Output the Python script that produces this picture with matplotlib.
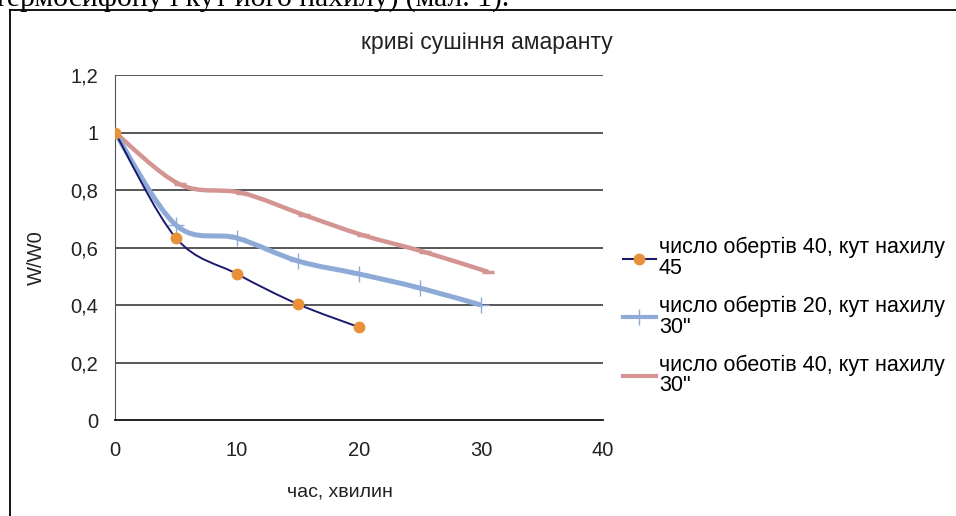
import matplotlib
matplotlib.use("Agg")
import matplotlib.pyplot as plt
from matplotlib.path import Path
from matplotlib.patches import PathPatch
from matplotlib.lines import Line2D

plt.rcParams['font.family'] = ['Liberation Sans', 'DejaVu Sans']

# data
t1 = [0, 5, 10, 15, 20]
w1 = [1.0, 0.633, 0.508, 0.403, 0.323]
t2 = [0, 5, 10, 15, 20, 25, 30]
w2 = [1.0, 0.678, 0.633, 0.553, 0.508, 0.459, 0.40]
t3 = [0, 5.3, 10.4, 15.5, 20.3, 25.4, 30.6]
w3 = [1.0, 0.82, 0.79, 0.713, 0.643, 0.584, 0.515]

labels = ["число обертів 40, кут нахилу\n45",
          "число обертів 20, кут нахилу\n30\"",
          "число обеотів 40, кут нахилу\n30\""]
yticks = [0, 0.2, 0.4, 0.6, 0.8, 1.0, 1.2]
ytick_labels = ["0", "0,2", "0,4", "0,6", "0,8", "1", "1,2"]
xticks = [0, 10, 20, 30, 40]


def smooth_path(xs, ys):
    # Catmull-Rom style bezier through the points, like Excel's smoothed line
    pts = list(zip(xs, ys))
    verts = [pts[0]]
    codes = [Path.MOVETO]
    n = len(pts)
    for i in range(n - 1):
        p0 = pts[i - 1] if i > 0 else pts[i]
        p1 = pts[i]
        p2 = pts[i + 1]
        p3 = pts[i + 2] if i + 2 < n else pts[i + 1]
        c1 = (p1[0] + (p2[0] - p0[0]) / 6, p1[1] + (p2[1] - p0[1]) / 6)
        c2 = (p2[0] - (p3[0] - p1[0]) / 6, p2[1] - (p3[1] - p1[1]) / 6)
        verts += [c1, c2, p2]
        codes += [Path.CURVE4] * 3
    return Path(verts, codes)


fig = plt.figure(figsize=(9.56, 5.16), dpi=100)
ax = fig.add_axes([0.1203, 0.186, 0.5105, 0.6686])

c1, m1 = '#1a1a6e', '#e8913a'
c2 = '#8eaad6'
c3 = '#d49592'

ax.add_patch(PathPatch(smooth_path(t3, w3), fill=False, ec=c3, lw=3.2, zorder=3,
                       capstyle='butt'))
ax.plot(t3[1:], w3[1:], ls='none', marker='_', ms=8, mew=2.5, color=c3, zorder=3)
ax.add_patch(PathPatch(smooth_path(t2, w2), fill=False, ec=c2, lw=3.6, zorder=4,
                       capstyle='butt'))
ax.plot(t2[1:], w2[1:], ls='none', marker='+', ms=11, mew=1, color=c2, zorder=4)
ax.add_patch(PathPatch(smooth_path(t1, w1), fill=False, ec=c1, lw=1.4, zorder=5))
ax.plot(t1, w1, ls='none', marker='o', ms=7.5, mfc=m1, mec=m1, zorder=6)

ax.set_xlim(0, 40)
ax.set_ylim(0, 1.2)
ax.set_xticks(xticks)
ax.set_yticks(yticks)
ax.set_yticklabels(ytick_labels)
ax.tick_params(length=0, labelsize=14.5, colors='#222222', pad=12)
ax.tick_params(axis='x', pad=15)
for y in yticks[1:]:
    ax.axhline(y, color='#2a2a2a', lw=1.1, zorder=1)
for s in ['top', 'right']:
    ax.spines[s].set_visible(False)
ax.spines['left'].set_color('#555555')
ax.spines['bottom'].set_color('#111111')
ax.spines['bottom'].set_linewidth(1.3)

handles = [
    Line2D([], [], color=c1, lw=1.5, marker='o', ms=7.5, mfc=m1, mec=m1),
    Line2D([], [], color=c2, lw=3, marker='+', ms=11, mew=1),
    Line2D([], [], color=c3, lw=3),
]
fig.legend(handles, labels, loc='upper left', bbox_to_anchor=(0.643, 0.557),
           frameon=False, fontsize=15.5, handlelength=1.5, handletextpad=0.15,
           labelspacing=0.77, borderaxespad=0)
plt.setp(fig.legends[0].get_texts(), linespacing=0.98)

fig.text(0.509, 0.917, "криві сушіння амаранту", ha='center', va='center',
         fontsize=16.5, color='#222222')
fig.text(0.038, 0.5, "W/W0", rotation=90, ha='center', va='center',
         fontsize=14.5, color='#222222')
fig.text(0.356, 0.046, "час, хвилин", ha='center', va='center',
         fontsize=14, color='#222222')

# clipped line of the surrounding document text and the frame of the picture
fig.text(-0.006, 1 - 6 / 516, "термосифону і кут його нахилу) (мал. 1).",
         ha='left', va='baseline', fontsize=21.3, family='Liberation Serif')
fig.add_artist(Line2D([10 / 956, 10 / 956], [0, 1 - 10 / 516],
                      transform=fig.transFigure, color='black', lw=1.3))
fig.add_artist(Line2D([10 / 956, 1], [1 - 10 / 516, 1 - 10 / 516],
                      transform=fig.transFigure, color='black', lw=1.3))

fig.savefig("out.png", dpi=100, facecolor='white')
